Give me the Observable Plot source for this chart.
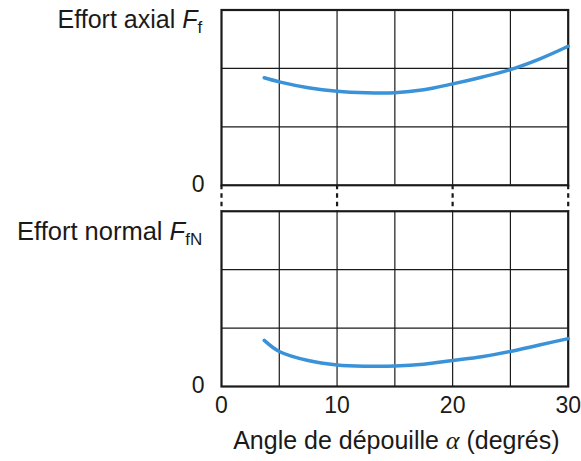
<!DOCTYPE html>
<html>
<head>
<meta charset="utf-8">
<script src="https://cdn.jsdelivr.net/npm/d3@7"></script>
<script src="https://cdn.jsdelivr.net/npm/@observablehq/plot@0.6"></script>
<style>
  html, body { margin: 0; padding: 0; background: #fff; }
  #chart text { white-space: pre; }
</style>
</head>
<body>
<div id="chart"></div>
<script>
// ---- data ----
const angle = [3.7, 5, 7.5, 10, 12.5, 15, 17.5, 20, 22.5, 25, 27.5, 30];
const axialForce = [1.84, 1.77, 1.67, 1.61, 1.585, 1.585, 1.635, 1.735, 1.85, 1.98, 2.16, 2.38];
const normalForce = [0.79, 0.60, 0.445, 0.37, 0.348, 0.35, 0.38, 0.445, 0.51, 0.60, 0.71, 0.82];

const panels = ["axial", "normal"];
const panelTitles = ["Effort axial F_f", "Effort normal F_fN"];
const xTicks = [0, 10, 20, 30];
const xGrid = [5, 10, 15, 20, 25];
const yGrid = [1, 2];
const yTicks = [0];
const xLabel = "Angle de dépouille α (degrés)";

// ---- table built from the arrays ----
const rows = [
  ...angle.map((a, i) => ({panel: panels[0], angle: a, force: axialForce[i]})),
  ...angle.map((a, i) => ({panel: panels[1], angle: a, force: normalForce[i]}))
];

// layout constants (pixels)
const panelPx = 175.25, gapPx = 26;
const yGap = -gapPx / panelPx * 3;

const ink = "#1a1a1a";
const blue = "#3a92d8";

const chart = Plot.plot({
  width: 581,
  height: 461,
  marginTop: 9.5,
  marginBottom: 75,
  marginLeft: 221,
  marginRight: 13.3,
  style: {fontFamily: "'Liberation Sans', Arial, sans-serif", fontSize: "23px", color: ink, background: "white", overflow: "visible"},
  x: {domain: [0, 30]},
  y: {domain: [0, 3]},
  fy: {domain: panels, axis: null, paddingInner: gapPx / (panelPx + gapPx), paddingOuter: 0, round: false},
  marks: [
    Plot.gridX(xGrid, {stroke: ink, strokeOpacity: 1, strokeWidth: 1.2}),
    Plot.gridY(yGrid, {stroke: ink, strokeOpacity: 1, strokeWidth: 1.2}),
    Plot.frame({stroke: ink, strokeWidth: 2.2}),
    Plot.ruleX(xTicks, {fy: () => panels[0], y1: 0, y2: yGap, stroke: ink, strokeWidth: 2.2, strokeDasharray: "4.5,4"}),
    Plot.line(rows, {x: "angle", y: "force", fy: "panel", stroke: blue, strokeWidth: 3.5, curve: "catmull-rom"}),
    Plot.axisY(yTicks, {tickSize: 0, tickPadding: 17, dy: -1, fontSize: 23, tickFormat: d => String(d), label: null}),
    Plot.axisX(xTicks, {tickSize: 0, tickPadding: 10, fontSize: 23, tickFormat: d => String(d), label: null}),
    Plot.text([panelTitles[0]], {fy: () => panels[0], text: d => d, frameAnchor: "top-left", textAnchor: "end", lineAnchor: "bottom", dx: -19.3, dy: 17.8, fontSize: 25, fill: ink}),
    Plot.text([panelTitles[1]], {fy: () => panels[1], text: d => d, frameAnchor: "top-left", textAnchor: "end", lineAnchor: "bottom", dx: -19.3, dy: 28.3, fontSize: 25.5, fill: ink}),
    Plot.text([xLabel], {fy: () => panels[1], text: d => d, frameAnchor: "bottom", textAnchor: "middle", lineAnchor: "bottom", dx: 1.5, dy: 62.3, fontSize: 25, fill: ink})
  ]
});

// rich text: italic F with subscript, italic serif alpha
d3.select(chart).selectAll("text").each(function () {
  const s = this.textContent;
  const t = d3.select(this);
  const m = s.match(/^(.*) F_(\w+)$/);
  if (m) {
    t.text(null);
    t.append("tspan").text(m[1] + " ");
    t.append("tspan").attr("font-style", "italic").text("F");
    t.append("tspan").attr("font-size", 17).attr("dy", 5).text(m[2]);
  } else if (s.includes("α")) {
    const [a, b] = s.split("α");
    t.text(null);
    t.append("tspan").text(a);
    t.append("tspan").attr("font-family", "'Liberation Serif', 'DejaVu Serif', serif").attr("font-style", "italic").attr("font-size", 26).text("α");
    t.append("tspan").text(b);
  }
});

document.getElementById("chart").append(chart);
</script>
</body>
</html>
